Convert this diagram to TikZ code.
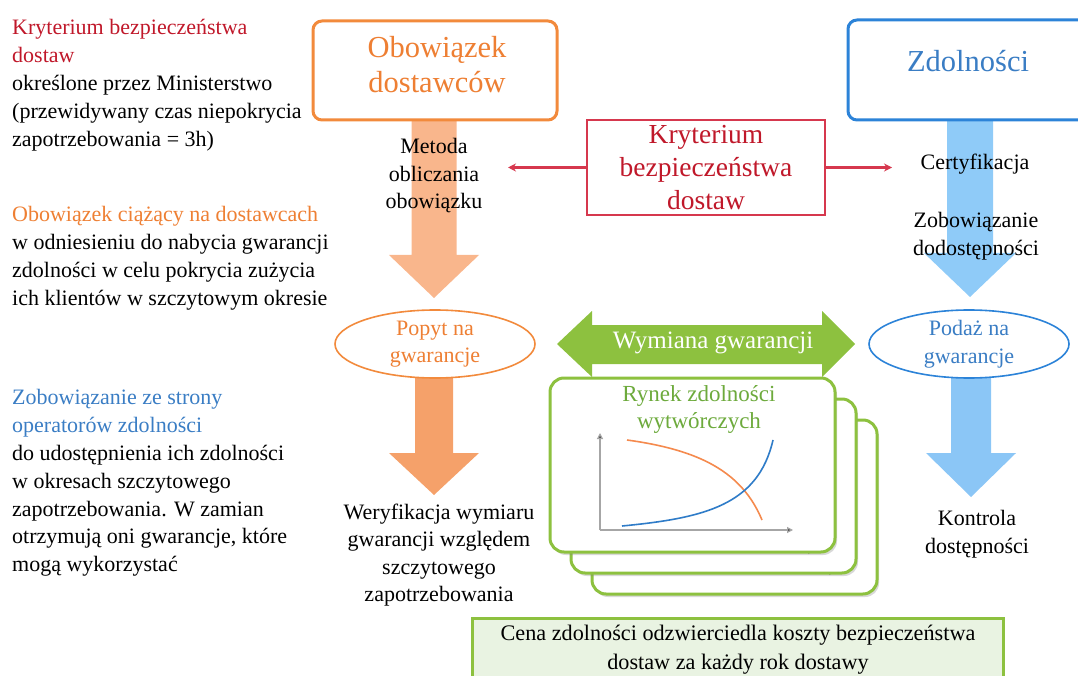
\documentclass[tikz,border=0pt]{standalone}
\usepackage{fontspec}
\setmainfont{Liberation Serif}
\usetikzlibrary{shapes.geometric,shadows,arrows.meta}
\definecolor{krytred}{HTML}{C0182A}
\definecolor{krytline}{HTML}{D6384E}
\definecolor{obowor}{HTML}{EE7F33}
\definecolor{oborline}{HTML}{F28A3C}
\definecolor{zdolblue}{HTML}{3A7DC4}
\definecolor{zdolline}{HTML}{2C83D8}
\definecolor{rynekgreen}{HTML}{8DC13F}
\definecolor{rynektext}{HTML}{6DAA3C}
\definecolor{cenafill}{HTML}{E9F3E2}
\definecolor{orlight}{HTML}{F9B68C}
\definecolor{ordark}{HTML}{F5A16A}
\definecolor{bllight}{HTML}{8FCBF8}
\definecolor{bldark}{HTML}{8BC6F6}
\definecolor{curveor}{HTML}{F58A4E}
\definecolor{curvebl}{HTML}{2F7CC8}
\tikzset{
  txt/.style={font=\fontsize{22}{27.5}\selectfont, align=center, inner sep=0pt},
  note/.style={txt, font=\fontsize{22}{27.8}\selectfont, align=left, anchor=north west},
  headframe/.style={line width=3pt, rounded corners=9pt, fill=white},
  headtxt/.style={txt, font=\fontsize{30.5}{35}\selectfont},
  oval/.style={txt, draw, ellipse, line width=1.6pt, fill=white, minimum width=200pt, minimum height=68pt},
  redarrow/.style={krytline, line width=2.5pt, -{Stealth[length=8pt,width=8pt]}},
  card/.style={draw=rynekgreen, line width=3pt, rounded corners=14pt, fill=white,
    drop shadow={opacity=.3, shadow xshift=2pt, shadow yshift=-3pt}},
  axis/.style={gray!70, line width=1.2pt, -{Triangle[length=6pt,width=6pt,fill=black!75]}},
}

\begin{document}
\begin{tikzpicture}[x=1pt, y=-1pt]
  \useasboundingbox (0,0) rectangle (1078,676);

  % block arrows
  \foreach \cx/\ya/\yb/\yc/\sw/\hw/\col in {434/118/255/298/45/90/orlight, 434/370/453/495/38/90/ordark,
      970/118/253/297/46/92/bllight, 971/370/453/497/40/90/bldark}
    \fill[\col] (\cx-\sw/2,\ya) -- (\cx+\sw/2,\ya) -- (\cx+\sw/2,\yb) -- (\cx+\hw/2,\yb)
      -- (\cx,\yc) -- (\cx-\hw/2,\yb) -- (\cx-\sw/2,\yb) -- cycle;

  % header boxes
  \draw[headframe, draw=oborline] (313,21) rectangle (557,120);
  \node[headtxt, text=obowor] (obow) at (437,65) {Obowiązek\\dostawców};
  \draw[headframe, draw=zdolline] (848,20) rectangle (1090,120);
  \node[headtxt, text=zdolblue] (zdol) at (968,61) {Zdolności};
  \node[draw=krytline, line width=2.5pt, fill=white, text=krytred, minimum width=238pt, minimum height=95pt,
    inner sep=0pt, font=\fontsize{27.5}{33}\selectfont, align=center] (kryt) at (706,167.5) {Kryterium\\bezpieczeństwa\\dostaw};

  \coordinate (metL) at (508,167.5);
  \coordinate (certR) at (892,167.5);
  \draw[redarrow] (kryt.west) -- (metL);
  \draw[redarrow] (kryt.east) -- (certR);

  \node[txt] (metoda) at (434,176) {Metoda\\obliczania\\obowiązku};
  \node[txt] (cert) at (975,164) {Certyfikacja};
  \node[txt] (zobow) at (976,236) {Zobowiązanie\\dodostępności};

  \node[oval, draw=oborline, text=obowor] (popyt) at (435,344) {Popyt na\\gwarancje};
  \node[oval, draw=zdolline, text=zdolblue] (podaz) at (969,344) {Podaż na\\gwarancje};

  % exchange arrow
  \fill[rynekgreen] (557,344) -- (592,311) -- (592,325) -- (822,325) -- (822,311) -- (855,344)
    -- (822,377) -- (822,364) -- (592,364) -- (592,377) -- cycle;
  \node[txt, text=white, font=\fontsize{25}{28}\selectfont] (wymiana) at (713,343) {Wymiana gwarancji};

  % stacked market cards
  \foreach \d in {42,21,0} {
    \begin{scope}[shift={(\d,\d)}]
      \draw[card] (550,378) rectangle (835,552);
      \draw[axis] (600,530) -- (600,433);
      \draw[axis] (600,530) -- (793,530);
      \draw[curveor, line width=1.6pt] (627,440) .. controls (700,450) and (742,472) .. (762,520);
      \draw[curvebl, line width=1.6pt] (622,526) .. controls (705,518) and (758,505) .. (773,440);
    \end{scope}
  }
  \node[txt, text=rynektext, font=\fontsize{23}{27}\selectfont] (rynek) at (699,409) {Rynek zdolności\\wytwórczych};

  \node[txt] (weryf) at (439,555) {Weryfikacja wymiaru\\gwarancji względem\\szczytowego\\zapotrzebowania};
  \node[txt] (kontrola) at (977,534) {Kontrola\\dostępności};

  % price box
  \draw[draw=rynekgreen, line width=3pt, fill=cenafill] (472,618) rectangle (1003,700);
  \node[txt, font=\fontsize{22.2}{29}\selectfont] (cena) at (738,650)
    {Cena zdolności odzwierciedla koszty bezpieczeństwa\\dostaw za każdy rok dostawy};

  % side notes
  \node[note] (kryteriumL) at (12,19.5) {\textcolor{krytred}{Kryterium bezpieczeństwa}\\
    \textcolor{krytred}{dostaw}\\określone przez Ministerstwo\\(przewidywany czas niepokrycia\\
    zapotrzebowania = 3h)};
  \node[note] (obowiazekL) at (12,206.5) {\textcolor{obowor}{Obowiązek ciążący na dostawcach}\\
    w odniesieniu do nabycia gwarancji\\zdolności w celu pokrycia zużycia\\ich klientów w szczytowym okresie};
  \node[note] (zobowL) at (12,389.5) {\textcolor{zdolblue}{Zobowiązanie ze strony}\\
    \textcolor{zdolblue}{operatorów zdolności}\\do udostępnienia ich zdolności\\w okresach szczytowego\\
    zapotrzebowania. W zamian\\otrzymują oni gwarancje, które\\mogą wykorzystać};
\end{tikzpicture}
\end{document}
